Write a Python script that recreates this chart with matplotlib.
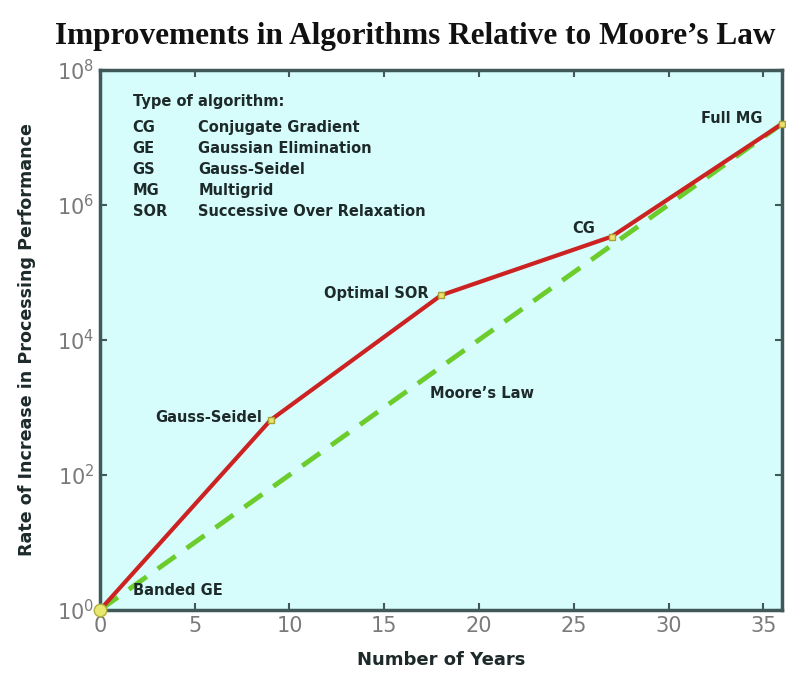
import matplotlib
matplotlib.use("Agg")
from matplotlib import pyplot as plt

# data
years = [0, 9, 18, 27, 36]
algo_speedup = [1, 650, 4.6e4, 3.4e5, 1.6e7]
algo_names = ["Banded GE", "Gauss-Seidel", "Optimal SOR", "CG", "Full MG"]
moore_years = [0, 36]
moore_speedup = [1, 1.6e7]

legend_abbr = ["CG", "GE", "GS", "MG", "SOR"]
legend_desc = ["Conjugate Gradient", "Gaussian Elimination", "Gauss-Seidel",
               "Multigrid", "Successive Over Relaxation"]

label_font = "DejaVu Sans"
ink = "#1e2a2a"

fig = plt.figure(figsize=(7.86, 6.82), dpi=100)
ax = fig.add_axes([0.1272, 0.1056, 0.868, 0.7918])
ax.set_facecolor("#d6fcfc")

ax.plot(moore_years, moore_speedup, color="#6ccc2c", lw=3.5,
        dashes=(4.5, 2.8), zorder=2)
ax.plot(years, algo_speedup, color="#cc2222", lw=3, zorder=3)
ax.plot(years[1:], algo_speedup[1:], ls="none", marker="s", ms=5,
        mfc="#ece070", mec="#a8a030", mew=1, zorder=4, clip_on=False)
ax.plot(years[:1], algo_speedup[:1], ls="none", marker="o", ms=9,
        mfc="#e8e870", mec="#b0b040", mew=1, zorder=4, clip_on=False)

ax.set_yscale("log")
ax.set_xlim(0, 36)
ax.set_ylim(1, 1e8)
ax.set_xticks([0, 5, 10, 15, 20, 25, 30, 35])
ax.set_yticks([1, 1e2, 1e4, 1e6, 1e8])
ax.minorticks_off()
ax.tick_params(direction="in", top=True, right=True, length=5, width=1.5,
               color="#405858", labelcolor="#7a7a7a", labelsize=15, pad=4)

for s in ax.spines.values():
    s.set_color("#405858")
    s.set_linewidth(2.5)

ax.set_xlabel("Number of Years", fontsize=13, fontweight="bold",
              family=label_font, color=ink, labelpad=11)
ax.set_ylabel("Rate of Increase in Processing Performance", fontsize=12.6,
              fontweight="bold", family=label_font, color=ink, labelpad=15)
fig.suptitle("Improvements in Algorithms Relative to Moore\u2019s Law",
             x=0.528, y=0.968, fontsize=22.5, fontweight="bold",
             family="Liberation Serif", color="#111111")

# point labels
offsets = [(24, 14), (-6, 2), (-9, 1), (-12, 6), (-14, 4)]
aligns = ["left", "right", "right", "right", "right"]
for x, y, name, off, ha in zip(years, algo_speedup, algo_names, offsets, aligns):
    ax.annotate(name, (x, y), xytext=off, textcoords="offset points",
                ha=ha, va="center", fontsize=10.5, fontweight="bold",
                family=label_font, color=ink)

ax.text(17.4, 1.6e3, "Moore\u2019s Law", fontsize=10.5, fontweight="bold",
        family=label_font, color=ink, va="center")

# legend block
ax.text(0.048, 0.941, "Type of algorithm:", transform=ax.transAxes,
        fontsize=10.5, fontweight="bold", family=label_font, color=ink,
        va="center")
for i, (a, d) in enumerate(zip(legend_abbr, legend_desc)):
    yy = 0.893 - i * 0.039
    ax.text(0.048, yy, a, transform=ax.transAxes, fontsize=10.5,
            fontweight="bold", family=label_font, color=ink, va="center")
    ax.text(0.144, yy, d, transform=ax.transAxes, fontsize=10.5,
            fontweight="bold", family=label_font, color=ink, va="center")

fig.savefig("out.png", dpi=100)
